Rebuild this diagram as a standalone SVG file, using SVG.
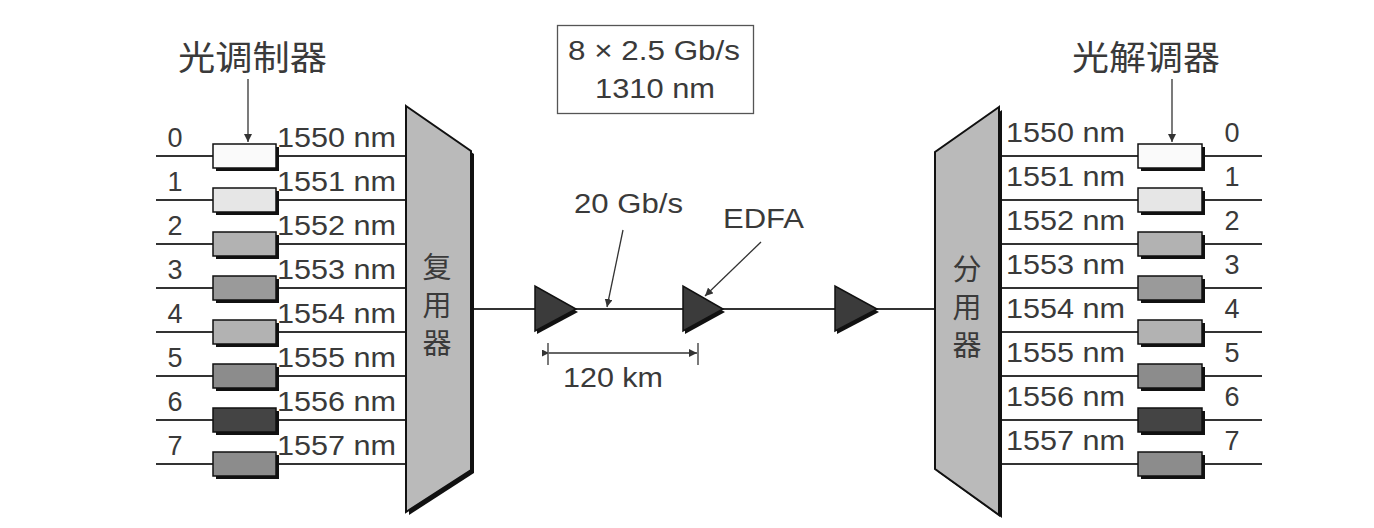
<svg xmlns="http://www.w3.org/2000/svg" width="1374" height="528" viewBox="0 0 1374 528">
<style>
.t{font-family:"Liberation Sans",Arial,sans-serif;font-size:27px;fill:#3a3a3a}
.cj{font-family:"Noto Sans CJK SC","Liberation Sans",sans-serif;fill:#3a3a3a}
.vt{font-family:"Noto Sans CJK SC","Liberation Sans",sans-serif;fill:#3a3a3a;font-size:29px;writing-mode:vertical-rl;letter-spacing:9px}
.ln{stroke:#333;stroke-width:2;fill:none}
.thin{stroke:#333;stroke-width:1.3;fill:none}
.box{stroke:#111;stroke-width:1.5}
.sh{fill:#111}
.amp{fill:#3b3b3b;stroke:#111;stroke-width:1.5}
.mux{fill:#bababa;stroke:#111;stroke-width:2}
</style>
<defs>
<marker id="ah" viewBox="0 0 10 10" refX="10" refY="5" markerWidth="8" markerHeight="8" markerUnits="userSpaceOnUse" orient="auto"><path d="M0,0 L10,5 L0,10 z" fill="#333"/></marker>
<marker id="ahs" viewBox="0 0 10 10" refX="0" refY="5" markerWidth="7" markerHeight="7" markerUnits="userSpaceOnUse" orient="auto-start-reverse"><path d="M0,5 L10,0 L10,10 z" fill="#333"/></marker>
</defs>
<rect width="1374" height="528" fill="#fff"/>

<g id="connectors">
<g class="ln">
<line x1="156" y1="156" x2="406" y2="156"/>
<line x1="156" y1="200" x2="406" y2="200"/>
<line x1="156" y1="244" x2="406" y2="244"/>
<line x1="156" y1="288" x2="406" y2="288"/>
<line x1="156" y1="332" x2="406" y2="332"/>
<line x1="156" y1="376" x2="406" y2="376"/>
<line x1="156" y1="420" x2="406" y2="420"/>
<line x1="156" y1="464" x2="406" y2="464"/>
<line x1="999" y1="156" x2="1262" y2="156"/>
<line x1="999" y1="200" x2="1262" y2="200"/>
<line x1="999" y1="244" x2="1262" y2="244"/>
<line x1="999" y1="288" x2="1262" y2="288"/>
<line x1="999" y1="332" x2="1262" y2="332"/>
<line x1="999" y1="376" x2="1262" y2="376"/>
<line x1="999" y1="420" x2="1262" y2="420"/>
<line x1="999" y1="464" x2="1262" y2="464"/>
<line x1="471" y1="309" x2="935" y2="309"/>
</g>
<g class="thin">
<line x1="248" y1="79" x2="248" y2="142" marker-end="url(#ah)"/>
<line x1="1172" y1="79" x2="1172" y2="142" marker-end="url(#ah)"/>
<line x1="623" y1="230" x2="607" y2="307" marker-end="url(#ah)"/>
<line x1="761" y1="242" x2="705" y2="296" marker-end="url(#ah)"/>
<line x1="549" y1="353" x2="697" y2="353" marker-start="url(#ahs)" marker-end="url(#ah)"/>
<line x1="548" y1="343" x2="548" y2="365"/>
<line x1="698" y1="343" x2="698" y2="365"/>
</g>
</g>

<g id="title-mod"><text class="cj" x="178" y="70" font-size="34" textLength="149" lengthAdjust="spacingAndGlyphs">光调制器</text></g>
<g id="title-demod"><text class="cj" x="1072" y="70" font-size="34" textLength="148" lengthAdjust="spacingAndGlyphs">光解调器</text></g>

<g id="rate-box">
<rect x="557.5" y="25.5" width="196" height="88" fill="#fff" stroke="#555" stroke-width="1.3"/>
<text class="t" x="568" y="60" textLength="172" lengthAdjust="spacingAndGlyphs">8 × 2.5 Gb/s</text>
<text class="t" x="595" y="98" textLength="120" lengthAdjust="spacingAndGlyphs">1310 nm</text>
</g>

<g id="modulators">
<g class="sh">
<rect x="216" y="147" width="63" height="24"/><rect x="216" y="191" width="63" height="24"/>
<rect x="216" y="235" width="63" height="24"/><rect x="216" y="279" width="63" height="24"/>
<rect x="216" y="323" width="63" height="24"/><rect x="216" y="367" width="63" height="24"/>
<rect x="216" y="411" width="63" height="24"/><rect x="216" y="455" width="63" height="24"/>
</g>
<rect class="box" x="213" y="144" width="63" height="24" fill="#fafafa"/>
<rect class="box" x="213" y="188" width="63" height="24" fill="#e6e6e6"/>
<rect class="box" x="213" y="232" width="63" height="24" fill="#b2b2b2"/>
<rect class="box" x="213" y="276" width="63" height="24" fill="#9a9a9a"/>
<rect class="box" x="213" y="320" width="63" height="24" fill="#b2b2b2"/>
<rect class="box" x="213" y="364" width="63" height="24" fill="#8c8c8c"/>
<rect class="box" x="213" y="408" width="63" height="24" fill="#444"/>
<rect class="box" x="213" y="452" width="63" height="24" fill="#8c8c8c"/>
</g>

<g id="mod-labels" class="t">
<text x="175" y="147" text-anchor="middle">0</text>
<text x="175" y="191" text-anchor="middle">1</text>
<text x="175" y="235" text-anchor="middle">2</text>
<text x="175" y="279" text-anchor="middle">3</text>
<text x="175" y="323" text-anchor="middle">4</text>
<text x="175" y="367" text-anchor="middle">5</text>
<text x="175" y="411" text-anchor="middle">6</text>
<text x="175" y="455" text-anchor="middle">7</text>
<text x="277" y="147" textLength="119" lengthAdjust="spacingAndGlyphs">1550 nm</text>
<text x="277" y="191" textLength="119" lengthAdjust="spacingAndGlyphs">1551 nm</text>
<text x="277" y="235" textLength="119" lengthAdjust="spacingAndGlyphs">1552 nm</text>
<text x="277" y="279" textLength="119" lengthAdjust="spacingAndGlyphs">1553 nm</text>
<text x="277" y="323" textLength="119" lengthAdjust="spacingAndGlyphs">1554 nm</text>
<text x="277" y="367" textLength="119" lengthAdjust="spacingAndGlyphs">1555 nm</text>
<text x="277" y="411" textLength="119" lengthAdjust="spacingAndGlyphs">1556 nm</text>
<text x="277" y="455" textLength="119" lengthAdjust="spacingAndGlyphs">1557 nm</text>
</g>

<g id="mux">
<polygon class="sh" points="409,109 474,154 474,473 409,515"/>
<polygon class="mux" points="406,106 471,151 471,470 406,512"/>
<text class="vt" x="437" y="252">复用器</text>
</g>

<g id="amplifiers">
<polygon class="sh" points="537,289 537,334 578,312"/>
<polygon class="amp" points="535,286 535,331 576,309"/>
<polygon class="sh" points="685,289 685,334 725,312"/>
<polygon class="amp" points="683,286 683,331 723,309"/>
<polygon class="sh" points="837,289 837,334 879,312"/>
<polygon class="amp" points="835,286 835,331 877,309"/>
</g>

<g id="link-labels" class="t">
<text x="574" y="213" textLength="109" lengthAdjust="spacingAndGlyphs">20 Gb/s</text>
<text x="723" y="228" textLength="81" lengthAdjust="spacingAndGlyphs">EDFA</text>
<text x="563" y="387" textLength="100" lengthAdjust="spacingAndGlyphs">120 km</text>
</g>

<g id="demux">
<polygon class="sh" points="1002,110 938,155 938,472 1002,518"/>
<polygon class="mux" points="999,107 935,152 935,469 999,515"/>
<text class="vt" x="967" y="254">分用器</text>
</g>

<g id="demodulators">
<g class="sh">
<rect x="1141" y="147" width="64" height="24"/><rect x="1141" y="191" width="64" height="24"/>
<rect x="1141" y="235" width="64" height="24"/><rect x="1141" y="279" width="64" height="24"/>
<rect x="1141" y="323" width="64" height="24"/><rect x="1141" y="367" width="64" height="24"/>
<rect x="1141" y="411" width="64" height="24"/><rect x="1141" y="455" width="64" height="24"/>
</g>
<rect class="box" x="1138" y="144" width="64" height="24" fill="#fafafa"/>
<rect class="box" x="1138" y="188" width="64" height="24" fill="#e6e6e6"/>
<rect class="box" x="1138" y="232" width="64" height="24" fill="#b2b2b2"/>
<rect class="box" x="1138" y="276" width="64" height="24" fill="#9a9a9a"/>
<rect class="box" x="1138" y="320" width="64" height="24" fill="#b2b2b2"/>
<rect class="box" x="1138" y="364" width="64" height="24" fill="#8c8c8c"/>
<rect class="box" x="1138" y="408" width="64" height="24" fill="#444"/>
<rect class="box" x="1138" y="452" width="64" height="24" fill="#8c8c8c"/>
</g>

<g id="demod-labels" class="t">
<text x="1006" y="142" textLength="119" lengthAdjust="spacingAndGlyphs">1550 nm</text>
<text x="1006" y="186" textLength="119" lengthAdjust="spacingAndGlyphs">1551 nm</text>
<text x="1006" y="230" textLength="119" lengthAdjust="spacingAndGlyphs">1552 nm</text>
<text x="1006" y="274" textLength="119" lengthAdjust="spacingAndGlyphs">1553 nm</text>
<text x="1006" y="318" textLength="119" lengthAdjust="spacingAndGlyphs">1554 nm</text>
<text x="1006" y="362" textLength="119" lengthAdjust="spacingAndGlyphs">1555 nm</text>
<text x="1006" y="406" textLength="119" lengthAdjust="spacingAndGlyphs">1556 nm</text>
<text x="1006" y="450" textLength="119" lengthAdjust="spacingAndGlyphs">1557 nm</text>
<text x="1232" y="142" text-anchor="middle">0</text>
<text x="1232" y="186" text-anchor="middle">1</text>
<text x="1232" y="230" text-anchor="middle">2</text>
<text x="1232" y="274" text-anchor="middle">3</text>
<text x="1232" y="318" text-anchor="middle">4</text>
<text x="1232" y="362" text-anchor="middle">5</text>
<text x="1232" y="406" text-anchor="middle">6</text>
<text x="1232" y="450" text-anchor="middle">7</text>
</g>
</svg>
